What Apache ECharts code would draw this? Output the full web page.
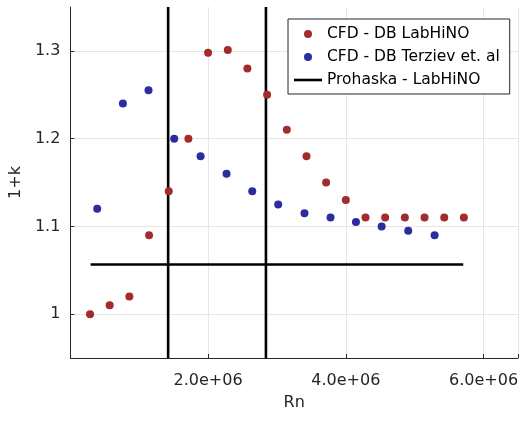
<!DOCTYPE html>
<html>
<head>
<meta charset="utf-8">
<script src="https://cdn.jsdelivr.net/npm/echarts@6/dist/echarts.min.js"></script>
<style>html,body{margin:0;padding:0;background:#fff}#c{width:521px;height:421px}</style>
</head>
<body>
<div id="c"></div>
<script>
// CFD - DB LabHiNO
var labRn = [0.286e6,0.571e6,0.857e6,1.143e6,1.429e6,1.714e6,2.0e6,2.286e6,2.571e6,2.857e6,3.143e6,3.429e6,3.714e6,4.0e6,4.286e6,4.571e6,4.857e6,5.143e6,5.429e6,5.714e6];
var labK  = [1.00,1.01,1.02,1.09,1.14,1.20,1.298,1.301,1.28,1.25,1.21,1.18,1.15,1.13,1.11,1.11,1.11,1.11,1.11,1.11];
// CFD - DB Terziev et. al
var terRn = [0.39e6,0.763e6,1.135e6,1.508e6,1.891e6,2.268e6,2.641e6,3.018e6,3.40e6,3.778e6,4.147e6,4.52e6,4.906e6,5.289e6];
var terK  = [1.12,1.24,1.255,1.20,1.18,1.16,1.14,1.125,1.115,1.11,1.105,1.10,1.095,1.09];
// Prohaska - LabHiNO
var prohV1Rn = 1.42e6;
var prohV2Rn = 2.84e6;
var prohHK = 1.0565;
var prohHRn = [0.294e6, 5.705e6];
var yLimits = [0.95, 1.35];
var yTicks = [1.0, 1.1, 1.2, 1.3];
var yTickLabels = ['1', '1.1', '1.2', '1.3'];
var xLimits = [0, 6.5e6];
var xTicks = [2e6, 4e6, 6e6];
var xTickLabels = ['2.0e+06', '4.0e+06', '6.0e+06'];

var FONT = 'DejaVu Sans';
var chart = echarts.init(document.getElementById('c'), null, {renderer:'canvas'});
var blackLine = {color:'#000', width:2.6};
function line(data, name){
  return {type:'line', name:name, data:data, symbol:'none', showSymbol:false, lineStyle:blackLine, itemStyle:{color:'#000'}, silent:true, animation:false, z:3};
}
chart.setOption({
  animation:false,
  backgroundColor:'#fff',
  grid:{left:68, right:0, top:7, bottom:63, containLabel:false},
  xAxis:{
    type:'value', min:xLimits[0], max:xLimits[1], interval:2e6,
    name:'Rn', nameLocation:'middle', nameGap:37,
    nameTextStyle:{fontFamily:FONT, fontSize:16, color:'#262626'},
    axisLine:{show:true, lineStyle:{color:'#262626', width:1}},
    axisTick:{show:true, inside:true, length:4, lineStyle:{color:'#262626'}},
    axisLabel:{fontFamily:FONT, fontSize:16, color:'#262626', margin:15,
      formatter:function(v){ var i = xTicks.indexOf(v); return i>=0 ? xTickLabels[i] : ''; }},
    splitLine:{show:true, lineStyle:{color:'#e6e6e6', width:1}}
  },
  yAxis:{
    type:'value', min:yLimits[0], max:yLimits[1], interval:0.05,
    name:'1+k', nameLocation:'middle', nameGap:44, nameRotate:90,
    nameTextStyle:{fontFamily:FONT, fontSize:16, color:'#262626'},
    axisLine:{show:true, lineStyle:{color:'#262626', width:1}},
    axisTick:{show:true, inside:true, length:4, customValues:yTicks, lineStyle:{color:'#262626'}},
    axisLabel:{fontFamily:FONT, fontSize:16, color:'#262626', margin:10, customValues:yTicks,
      formatter:function(v){ for (var i=0;i<yTicks.length;i++){ if (Math.abs(v-yTicks[i])<1e-6) return yTickLabels[i]; } return ''; }},
    splitLine:{show:false}
  },
  legend:{
    orient:'vertical', left:288, top:19, width:221, z:10,
    backgroundColor:'#fff', borderColor:'#262626', borderWidth:1,
    padding:[7,10,6,6], itemGap:7, itemWidth:28, itemHeight:8,
    textStyle:{fontFamily:FONT, fontSize:15.5, color:'#000'},
    data:[
      {name:'CFD - DB LabHiNO', icon:'circle'},
      {name:'CFD - DB Terziev et. al', icon:'circle'},
      {name:'Prohaska - LabHiNO', icon:'path://M0,0 L28,0 L28,2.6 L0,2.6 Z'}
    ]
  },
  series:[
    {type:'line', name:'grid', data:[], silent:true, z:0,
     markLine:{silent:true, z:0, symbol:['none','none'], label:{show:false},
       lineStyle:{color:'#e6e6e6', width:1, type:'solid'},
       data:yTicks.map(function(v){return {yAxis:v};})}},
    line([[prohV1Rn,yLimits[0]],[prohV1Rn,yLimits[1]]],'Prohaska - LabHiNO'),
    line([[prohV2Rn,yLimits[0]],[prohV2Rn,yLimits[1]]],'Prohaska - LabHiNO'),
    line([[prohHRn[0],prohHK],[prohHRn[1],prohHK]],'Prohaska - LabHiNO'),
    {type:'scatter', name:'CFD - DB LabHiNO', symbol:'circle', symbolSize:8,
     itemStyle:{color:'#a32b2b', opacity:1}, z:4,
     data:labRn.map(function(x,i){return [x,labK[i]];})},
    {type:'scatter', name:'CFD - DB Terziev et. al', symbol:'circle', symbolSize:8,
     itemStyle:{color:'#2c2c9e', opacity:1}, z:4,
     data:terRn.map(function(x,i){return [x,terK[i]];})}
  ]
});
</script>
</body>
</html>
